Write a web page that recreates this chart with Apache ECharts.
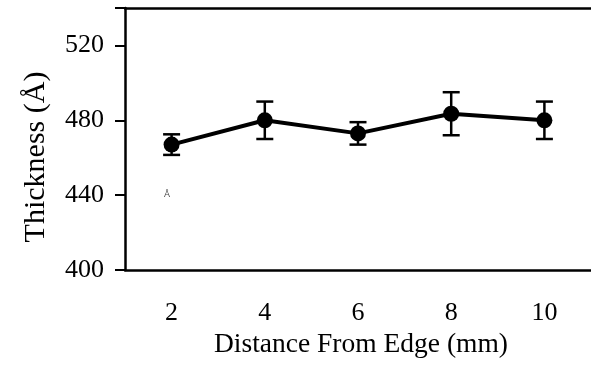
<!DOCTYPE html>
<html>
<head>
<meta charset="utf-8">
<script src="https://cdn.jsdelivr.net/npm/echarts@6/dist/echarts.min.js"></script>
<style>
  html,body{margin:0;padding:0;background:#fff;}
  #chart{width:591px;height:365px;}
</style>
</head>
<body>
<div id="chart"></div>
<script>
// 距离 (mm)
var distances = ['2', '4', '6', '8', '10'];
// 厚度均值 (Å)
var thickness = [467, 480, 473, 483.5, 480];
// 误差 (±)
var errors = [5.5, 10, 6, 11.5, 10];
var yTicks = [400, 440, 480, 520];

var font = '"Liberation Serif", "Times New Roman", serif';

var errData = thickness.map(function (v, i) {
  return [i, v - errors[i], v + errors[i]];
});

var chart = echarts.init(document.getElementById('chart'));
chart.setOption({
  animation: false,
  grid: {
    left: 125,
    top: 8,
    width: 475,
    bottom: 95
  },
  xAxis: [{
    type: 'category',
    data: distances,
    boundaryGap: true,
    name: 'Distance From Edge (mm)',
    nameLocation: 'middle',
    nameGap: 49,
    nameTextStyle: { fontFamily: font, fontSize: 27.5, color: '#000', padding: [0, 0, 0, 6] },
    axisLine: { lineStyle: { color: '#000', width: 2.5 } },
    axisTick: { length: 8, lineStyle: { color: '#000', width: 2 } },
    axisLabel: { margin: 30, fontFamily: font, fontSize: 26, color: '#000' }
  }, {
    // 上边框
    type: 'category',
    data: distances,
    position: 'top',
    axisLine: { lineStyle: { color: '#000', width: 2.5 } },
    axisTick: { show: false },
    axisLabel: { show: false }
  }],
  yAxis: {
    type: 'value',
    min: 400,
    max: 540,
    interval: 40,
    name: 'Thickness (Å)',
    nameLocation: 'middle',
    nameGap: 74,
    nameTextStyle: { fontFamily: font, fontSize: 30, color: '#000', padding: [0, 36, 0, 0] },
    splitLine: { show: false },
    axisLine: { show: true, lineStyle: { color: '#000', width: 2.5 } },
    axisTick: { show: true, length: 10, lineStyle: { color: '#000', width: 2 } },
    axisLabel: {
      margin: 21, fontFamily: font, fontSize: 26, color: '#000',
      formatter: function (v) { return yTicks.indexOf(v) >= 0 ? String(v) : ''; }
    }
  },
  graphic: [{
    type: 'text',
    left: 164,
    top: 190,
    style: { text: 'Å', fontSize: 9, fill: '#444', fontFamily: 'sans-serif' }
  }],
  series: [
    {
      type: 'custom',
      data: errData,
      z: 3,
      renderItem: function (params, api) {
        var lo = api.coord([api.value(0), api.value(1)]);
        var hi = api.coord([api.value(0), api.value(2)]);
        var hw = 8.5;
        var st = { stroke: '#000', lineWidth: 2.5 };
        return {
          type: 'group',
          children: [
            { type: 'line', shape: { x1: lo[0], y1: lo[1], x2: hi[0], y2: hi[1] }, style: st },
            { type: 'line', shape: { x1: lo[0] - hw, y1: lo[1], x2: lo[0] + hw, y2: lo[1] }, style: st },
            { type: 'line', shape: { x1: hi[0] - hw, y1: hi[1], x2: hi[0] + hw, y2: hi[1] }, style: st }
          ]
        };
      }
    },
    {
      type: 'line',
      data: thickness,
      z: 4,
      symbol: 'circle',
      symbolSize: 16,
      lineStyle: { color: '#000', width: 4 },
      itemStyle: { color: '#000' }
    }
  ]
});
</script>
</body>
</html>
